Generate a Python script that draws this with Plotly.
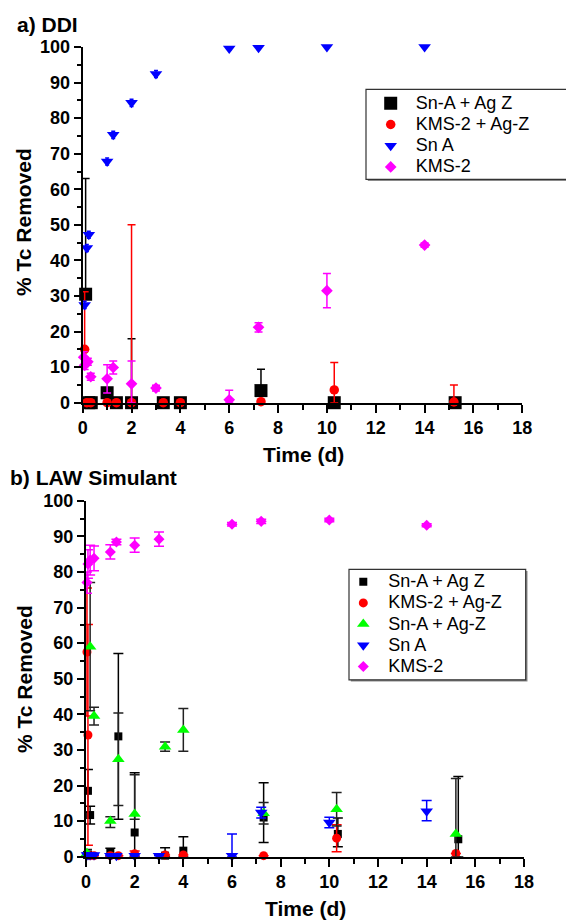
import plotly.graph_objects as go

W, H = 566, 922

# ---------------- a) DDI ----------------
ddi_snag_t = [0.12, 0.25, 0.35, 1.0, 1.38, 2.0, 3.3, 4.0, 7.3, 10.3, 15.25]
ddi_snag = [30.5, 0, 0, 2.8, 0, 0, 0, 0, 3.4, 0, 0]
ddi_snag_hi = [32.5, None, None, 1.0, None, 18.0, None, None, 6.0, None, None]
ddi_snag_lo = [0, None, None, 1.0, None, 0, None, None, 0, None, None]

ddi_kmsag_t = [0.08, 0.17, 0.33, 1.0, 1.38, 2.0, 3.3, 4.0, 7.3, 10.3, 15.2]
ddi_kmsag = [15.0, 0, 0, 0, 0, 0, 0, 0, 0.3, 3.6, 0.2]
ddi_kmsag_hi = [16.2, None, None, None, None, 50.0, None, None, None, 7.7, 4.8]
ddi_kmsag_lo = [0, None, None, None, None, 0, None, None, None, 3.6, 0.2]

ddi_sna_t = [0.08, 0.17, 0.25, 1.0, 1.25, 2.0, 3.0, 6.0, 7.2, 10.0, 14.0]
ddi_sna = [27.5, 43.5, 47.2, 67.8, 75.3, 84.3, 92.4, 99.6, 99.8, 100.0, 100.0]
ddi_sna_hi = [1.0, 1.0, 1.0, 1.0, 1.0, 1.0, 1.0, 0.5, 0.5, None, None]
ddi_sna_lo = [1.0, 1.0, 1.0, 1.0, 1.0, 1.0, 1.0, 0.5, 0.5, None, None]

ddi_kms_t = [0.04, 0.08, 0.21, 0.33, 1.0, 1.25, 2.0, 3.0, 6.0, 7.2, 10.0, 14.0]
ddi_kms = [12.8, 10.5, 11.5, 7.3, 6.7, 9.9, 5.3, 4.1, 0.8, 21.2, 31.5, 44.3]
ddi_kms_hi = [1.5, 1.2, 1.0, 1.0, 4.0, 1.8, 6.4, 0.8, 2.7, 1.3, 4.8, 0.6]
ddi_kms_lo = [1.5, 1.2, 1.0, 1.0, 4.0, 1.8, 5.3, 0.8, 0.8, 1.3, 4.8, 0.6]

# ---------------- b) LAW Simulant ----------------
law_snag_t = [0.04, 0.08, 0.17, 1.0, 1.33, 2.0, 3.25, 4.0, 7.3, 10.35, 15.3]
law_snag = [0.5, 18.5, 11.7, 1.2, 33.8, 6.8, 0.3, 1.7, 11.0, 6.4, 4.9]
law_snag_hi = [1.0, 6.0, 2.5, 1.2, 23.3, 16.8, 2.2, 3.9, 9.8, 4.5, 17.6]
law_snag_lo = [0.5, 6.0, 2.5, 1.2, 23.3, 6.8, 0.3, 1.7, 7.0, 3.6, 4.9]

law_kmsag_t = [0.04, 0.08, 0.17, 0.33, 1.0, 1.33, 2.0, 3.25, 4.0, 7.3, 10.3, 15.2]
law_kmsag = [57.5, 34.2, 0.3, 0.3, 0.3, 0.3, 0.8, 0.5, 0.5, 0.3, 5.2, 0.9]
law_kmsag_hi = [18.0, 31.0, None, None, None, None, 0.8, None, None, None, 3.8, None]
law_kmsag_lo = [18.0, 31.0, None, None, None, None, 0.8, None, None, None, 3.8, None]

law_snagz_t = [0.04, 0.17, 0.33, 1.0, 1.33, 2.0, 3.25, 4.0, 7.3, 10.3, 15.2]
law_snagz = [1.0, 59.0, 39.5, 10.0, 27.4, 12.0, 30.9, 35.6, 12.2, 13.3, 6.4]
law_snagz_hi = [1.0, 18.0, 2.5, 1.2, 13.0, 11.0, 1.3, 6.0, 3.0, 4.7, 15.6]
law_snagz_lo = [1.0, 18.0, 2.5, 1.8, 13.0, 1.5, 1.3, 6.0, 3.0, 4.7, 6.4]

law_sna_t = [0.04, 0.08, 0.17, 0.33, 1.0, 1.25, 2.0, 3.0, 6.0, 7.2, 10.0, 14.0]
law_sna = [0.5, 0.5, 0.5, 0.5, 0.3, 0.3, 0.3, 0.3, 0.3, 12.4, 9.6, 12.8]
law_sna_hi = [None, None, None, None, None, None, None, None, 6.1, 1.5, 1.5, 3.0]
law_sna_lo = [None, None, None, None, None, None, None, None, 0.3, 1.5, 1.5, 2.7]

law_kms_t = [0.04, 0.08, 0.17, 0.33, 1.0, 1.25, 2.0, 3.0, 6.0, 7.2, 10.0, 14.0]
law_kms = [77.0, 82.2, 83.3, 83.8, 85.6, 88.4, 87.5, 89.2, 93.4, 94.2, 94.6, 93.1]
law_kms_hi = [3.0, 4.0, 4.2, 3.5, 2.0, 0.8, 2.0, 2.0, 0.5, 0.6, 0.5, 0.4]
law_kms_lo = [3.0, 4.0, 4.2, 3.5, 2.0, 0.8, 2.0, 2.0, 0.5, 0.6, 0.5, 0.4]

x_ticks = list(range(0, 19, 2))
y_ticks = list(range(0, 101, 10))

FONT = "Liberation Sans, Arial, Helvetica, sans-serif"


def px(xp):
    return xp / W


def py(yp):
    return 1 - yp / H


def series(t, v, hi, lo, name, symbol, color, size, xa, ya, legend,
           err_color=None, cap=4):
    return go.Scatter(
        x=t, y=v, mode="markers", name=f"<span style='font-size:18px'>{name}</span>",
        xaxis=xa, yaxis=ya, legend=legend, cliponaxis=False,
        marker=dict(symbol=symbol, color=color, size=size, line=dict(width=0)),
        error_y=dict(type="data", symmetric=False, array=hi, arrayminus=lo,
                     color=err_color or color, thickness=1.5, width=cap),
    )


fig = go.Figure()

# panel a
fig.add_trace(series(ddi_snag_t, ddi_snag, ddi_snag_hi, ddi_snag_lo, "Sn-A + Ag Z",
                     "square", "#000000", 13, "x", "y", "legend"))
fig.add_trace(series(ddi_kmsag_t, ddi_kmsag, ddi_kmsag_hi, ddi_kmsag_lo, "KMS-2 + Ag-Z",
                     "circle", "#ff0000", 9.5, "x", "y", "legend"))
fig.add_trace(series(ddi_sna_t, ddi_sna, ddi_sna_hi, ddi_sna_lo, "Sn A",
                     "triangle-down", "#0000ff", 11, "x", "y", "legend", cap=2))
fig.add_trace(series(ddi_kms_t, ddi_kms, ddi_kms_hi, ddi_kms_lo, "KMS-2",
                     "diamond", "#ff00ff", 9, "x", "y", "legend"))

# panel b
fig.add_trace(series(law_snag_t, law_snag, law_snag_hi, law_snag_lo, "Sn-A + Ag Z",
                     "square", "#000000", 8, "x2", "y2", "legend2", cap=5))
fig.add_trace(series(law_kmsag_t, law_kmsag, law_kmsag_hi, law_kmsag_lo, "KMS-2 + Ag-Z",
                     "circle", "#ff0000", 9, "x2", "y2", "legend2", cap=5))
fig.add_trace(series(law_snagz_t, law_snagz, law_snagz_hi, law_snagz_lo, "Sn-A + Ag-Z",
                     "triangle-up", "#00ff00", 11, "x2", "y2", "legend2",
                     err_color="#222222", cap=5))
fig.add_trace(series(law_sna_t, law_sna, law_sna_hi, law_sna_lo, "Sn A",
                     "triangle-down", "#0000ff", 11, "x2", "y2", "legend2", cap=5))
fig.add_trace(series(law_kms_t, law_kms, law_kms_hi, law_kms_lo, "KMS-2",
                     "diamond", "#ff00ff", 8.5, "x2", "y2", "legend2", cap=5))

tickfont = dict(family=FONT, size=18, color="black", weight="bold")
xcommon = dict(range=[0, 18], tickvals=x_ticks, ticks="outside", ticklen=8, tickwidth=2,
               tickcolor="black", showline=True, linewidth=2, linecolor="black",
               showgrid=False, zeroline=False, tickfont=tickfont,
               minor=dict(dtick=1, tick0=0, ticks="outside", ticklen=5, tickwidth=1.5,
                          tickcolor="black", showgrid=False))
ycommon = dict(range=[0, 100], tickvals=y_ticks, ticks="outside", ticklen=7, tickwidth=2,
               tickcolor="black", showline=True, linewidth=2, linecolor="black",
               showgrid=False, zeroline=False, tickfont=tickfont,
               minor=dict(dtick=5, tick0=0, ticks="outside", ticklen=4, tickwidth=1.5,
                          tickcolor="black", showgrid=False))

legend_common = dict(bgcolor="rgba(0,0,0,0)", borderwidth=0, itemwidth=40,
                     font=dict(family=FONT, size=14, color="black"),
                     xanchor="left", yanchor="top", itemsizing="trace",
                     traceorder="normal")

fig.update_layout(
    width=W, height=H,
    margin=dict(l=0, r=0, t=0, b=0, autoexpand=False),
    paper_bgcolor="white", plot_bgcolor="rgba(0,0,0,0)",
    xaxis=dict(domain=[px(82.7), px(522.3)], anchor="y", **xcommon),
    yaxis=dict(domain=[py(402.7), py(47)], anchor="x", **ycommon),
    xaxis2=dict(domain=[px(86), px(524)], anchor="y2", **xcommon),
    yaxis2=dict(domain=[py(856.7), py(500.7)], anchor="x2", **ycommon),
    legend=dict(x=px(365.7), y=py(87.7), **legend_common),
    legend2=dict(x=px(338.3), y=py(566.1), **legend_common),
    showlegend=True,
)

# legend frames with a thin drop shadow
frames = [(366, 89.3, 580, 179.3), (349, 569.3, 525.7, 679.8)]
for x0, y0, x1, y1 in frames:
    fig.add_shape(type="rect", xref="paper", yref="paper",
                  x0=px(x0 + 1.8), x1=px(x1 + 1.8), y0=py(y0 + 1.8), y1=py(y1 + 1.8),
                  fillcolor="#8a8a8a", line=dict(width=0), layer="above")
    fig.add_shape(type="rect", xref="paper", yref="paper",
                  x0=px(x0), x1=px(x1), y0=py(y0), y1=py(y1),
                  fillcolor="white", line=dict(color="#333333", width=1.2), layer="above")

title_font = dict(family=FONT, size=21, color="black", weight="bold")


def label(text, x, y, xanchor="center", angle=0):
    fig.add_annotation(text=text, x=px(x), y=py(y), xref="paper", yref="paper",
                       xanchor=xanchor, yanchor="middle", showarrow=False,
                       textangle=angle, font=title_font)


label("a) DDI", 15, 24.5, xanchor="left")
label("b) LAW Simulant", 8, 477, xanchor="left")
label("% Tc Removed", 24, 222, angle=-90)
label("% Tc Removed", 24, 679, angle=-90)
label("Time (d)", 303.5, 454)
label("Time (d)", 305.5, 908)

fig.write_html("out.html")
